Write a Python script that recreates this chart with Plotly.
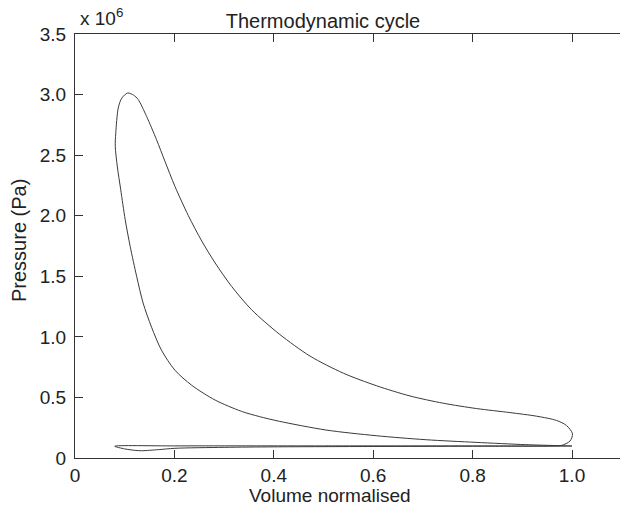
import plotly.graph_objects as go

# Volume (normalised) and pressure (x 1e6 Pa) around the cycle
intake_v = [0.080, 0.100, 0.121, 0.134, 0.168, 0.201, 0.300, 0.400, 0.600, 0.800, 1.000]
intake_p = [0.097, 0.075, 0.063, 0.060, 0.069, 0.080, 0.088, 0.092, 0.095, 0.097, 0.099]

compression_v = [0.975, 0.907, 0.807, 0.706, 0.606, 0.505, 0.411, 0.371, 0.335, 0.282, 0.235,
                 0.201, 0.174, 0.154, 0.137, 0.124, 0.111, 0.101, 0.092, 0.085, 0.081, 0.082,
                 0.087, 0.094, 0.106]
compression_p = [0.102, 0.110, 0.129, 0.151, 0.184, 0.231, 0.303, 0.342, 0.385, 0.478, 0.600,
                 0.725, 0.890, 1.080, 1.280, 1.500, 1.747, 1.967, 2.215, 2.410, 2.573, 2.680,
                 2.890, 2.970, 3.013]

expansion_v = [0.118, 0.127, 0.144, 0.164, 0.181, 0.201, 0.228, 0.255, 0.282, 0.315, 0.355,
               0.412, 0.473, 0.540, 0.607, 0.674, 0.741, 0.808, 0.875, 0.929, 0.969,
               0.989, 1.001, 0.996, 0.979, 0.960]
expansion_p = [2.995, 2.960, 2.820, 2.628, 2.449, 2.243, 2.001, 1.791, 1.610, 1.417, 1.225,
               1.020, 0.841, 0.700, 0.596, 0.512, 0.452, 0.408, 0.375, 0.345, 0.310,
               0.268, 0.200, 0.140, 0.104, 0.100]

exhaust_v = [0.800, 0.500, 0.200, 0.080]
exhaust_p = [0.100, 0.100, 0.100, 0.097]

x_ticks = [0, 0.2, 0.4, 0.6, 0.8, 1.0]
x_tick_labels = ["0", "0.2", "0.4", "0.6", "0.8", "1.0"]
y_ticks = [0, 0.5, 1.0, 1.5, 2.0, 2.5, 3.0, 3.5]
y_tick_labels = ["0", "0.5", "1.0", "1.5", "2.0", "2.5", "3.0", "3.5"]
scale = 1e6

volume = intake_v + compression_v + expansion_v + exhaust_v
pressure = [p * scale for p in intake_p + compression_p + expansion_p + exhaust_p]

FONT = "Liberation Sans, Arial, sans-serif"
AX = "#333333"
TXT = "#222222"

fig = go.Figure()
fig.add_trace(go.Scatter(
    x=volume, y=pressure, mode="lines",
    line=dict(color="#3a3a3a", width=1, shape="spline", smoothing=0.8),
    showlegend=False, hoverinfo="skip"))

W, H = 620, 508
L, T, B = 75, 34, 50
plot_w = W - L
plot_h = H - T - B

fig.update_layout(
    width=W, height=H,
    margin=dict(l=L, r=0, t=T, b=B, pad=0),
    paper_bgcolor="white", plot_bgcolor="white",
    font=dict(family=FONT, size=19, color=TXT),
    showlegend=False,
    title=dict(text="Thermodynamic cycle", x=323 / W, xanchor="center",
               y=1 - 21 / H, yanchor="middle", yref="container",
               font=dict(family=FONT, size=20, color=TXT)),
)

fig.update_xaxes(
    range=[0, plot_w / 497.0], tickvals=x_ticks, ticktext=x_tick_labels,
    ticks="inside", ticklen=8, tickwidth=1, tickcolor=AX,
    showline=True, linecolor=AX, linewidth=1, mirror="ticks",
    showgrid=False, zeroline=False, ticklabelstandoff=0,
    tickfont=dict(family=FONT, size=19, color=TXT))
fig.update_yaxes(
    range=[0, 3.5 * scale], tickvals=[v * scale for v in y_ticks], ticktext=y_tick_labels,
    ticks="inside", ticklen=8, tickwidth=1, tickcolor=AX,
    showline=True, linecolor=AX, linewidth=1, mirror=False,
    showgrid=False, zeroline=False, ticklabelstandoff=4,
    tickfont=dict(family=FONT, size=19, color=TXT))

fig.add_annotation(text="x 10<sup>6</sup>", xref="paper", yref="paper",
                   x=(78 - L) / plot_w, y=(458 - 31) / plot_h,
                   xanchor="left", yanchor="bottom", showarrow=False,
                   font=dict(family=FONT, size=19, color=TXT))
fig.add_annotation(text="Volume normalised", xref="paper", yref="paper",
                   x=(330 - L) / plot_w, y=(458 - 496) / plot_h,
                   xanchor="center", yanchor="middle", showarrow=False,
                   font=dict(family=FONT, size=19, color=TXT))
fig.add_annotation(text="Pressure (Pa)", xref="paper", yref="paper",
                   x=(19 - L) / plot_w, y=(458 - 241) / plot_h,
                   xanchor="center", yanchor="middle", textangle=-90, showarrow=False,
                   font=dict(family=FONT, size=20, color=TXT))

fig.write_html("out.html")
